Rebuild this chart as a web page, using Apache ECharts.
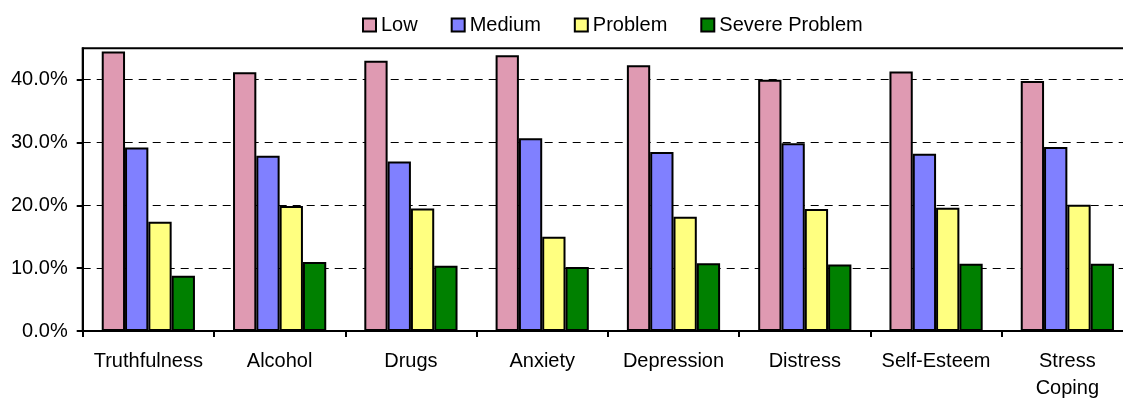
<!DOCTYPE html>
<html>
<head>
<meta charset="utf-8">
<script src="https://cdn.jsdelivr.net/npm/echarts@6/dist/echarts.min.js"></script>
<style>html,body{margin:0;padding:0;background:#fff;overflow:hidden;width:1123px;height:402px;}#c{width:1143px;height:402px;}</style>
</head>
<body>
<div id="c"></div>
<script>
const categories = ['Truthfulness', 'Alcohol', 'Drugs', 'Anxiety', 'Depression', 'Distress', 'Self-Esteem', 'Stress\nCoping'];
const seriesNames = ['Low', 'Medium', 'Problem', 'Severe Problem'];
const low = [44.5, 41.2, 43.0, 43.9, 42.3, 40.0, 41.3, 39.8];
const medium = [29.2, 27.9, 27.0, 30.7, 28.5, 29.9, 28.2, 29.3];
const problem = [17.4, 19.9, 19.5, 15.0, 18.2, 19.4, 19.6, 20.1];
const severe = [8.8, 11.0, 10.4, 10.2, 10.8, 10.6, 10.7, 10.7];
const yTicks = [0, 10, 20, 30, 40];
const colors = ['#DF9AB2', '#8080FF', '#FFFF80', '#008000'];

const chart = echarts.init(document.getElementById('c'));
const font = 'Liberation Sans, Arial, sans-serif';
const allData = [low, medium, problem, severe];
chart.setOption({
  animation: false,
  textStyle: { fontFamily: font },
  legend: {
    left: 357, top: 10,
    itemWidth: 13, itemHeight: 13, itemGap: 33,
    icon: 'rect',
    textStyle: { fontSize: 20, color: '#000', fontFamily: font },
    data: seriesNames
  },
  grid: {
    left: 82.7, top: 48.3, bottom: 68.7, right: 10,
    show: true, borderColor: '#000', borderWidth: 2, backgroundColor: 'transparent'
  },
  xAxis: {
    type: 'category',
    data: categories,
    axisLine: { lineStyle: { color: '#000', width: 2 } },
    axisTick: { show: true, length: 6, lineStyle: { color: '#000', width: 2 } },
    axisLabel: { color: '#000', fontSize: 20, margin: 17, lineHeight: 27, fontFamily: font, interval: 0 },
    splitLine: { show: false }
  },
  yAxis: {
    type: 'value',
    min: 0, max: 45, interval: 10,
    axisLine: { show: true, lineStyle: { color: '#000', width: 2 } },
    axisTick: { show: true, length: 6, lineStyle: { color: '#000', width: 2 }, customValues: yTicks },
    axisLabel: { color: '#000', fontSize: 20, margin: 15, fontFamily: font, customValues: yTicks,
      formatter: v => v.toFixed(1) + '%' },
    splitLine: { show: true, lineStyle: { color: '#000', width: 1, type: [8, 6] } }
  },
  series: seriesNames.map((n, i) => ({
    name: n,
    type: 'bar',
    data: allData[i],
    barGap: '0%',
    barCategoryGap: '29%',
    itemStyle: { color: colors[i], borderColor: '#000', borderWidth: 2 }
  }))
});
</script>
</body>
</html>
